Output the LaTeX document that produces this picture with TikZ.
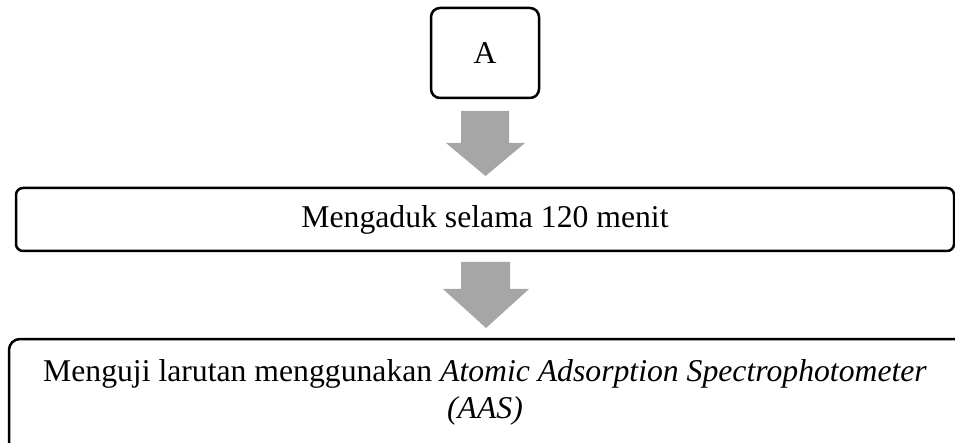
\documentclass[tikz,border=0pt]{standalone}
\usepackage{fontspec}
\setmainfont{Liberation Serif}
\definecolor{arrowgray}{RGB}{166,166,166}
\tikzset{
  box/.style={draw=black, line width=2.5pt, rounded corners=9pt},
  blockarrow/.style={fill=arrowgray, draw=none},
  lbl/.style={font=\fontsize{31.7}{36.5}\selectfont, inner sep=0pt, align=center}
}
\begin{document}
\begin{tikzpicture}[x=1pt,y=-1pt]
\useasboundingbox (0,0) rectangle (955,443);
\clip (0,0) rectangle (955,443);
% box A
\draw[box] (431,8) rectangle (539,98);
\node[lbl] (a) at (485,53) {A};
% arrow 1
\fill[blockarrow] (461,111) -- (509,111) -- (509,143) -- (525,143) -- (485.5,176) -- (446,143) -- (461,143) -- cycle;
% box 2
\draw[box, rounded corners=7pt] (16,188) rectangle (954,251);
\node[lbl] (b) at (485,219.5) {Mengaduk selama 120 menit};
% arrow 2
\fill[blockarrow] (461,262) -- (510,262) -- (510,289) -- (529,289) -- (486,328) -- (443,289) -- (461,289) -- cycle;
% box 3
\draw[box, rounded corners=11pt] (9,339) rectangle (975,470);
\node[lbl] (c) at (485,392.5) {Menguji larutan menggunakan \textit{Atomic Adsorption Spectrophotometer}\\\textit{(AAS)}};
\end{tikzpicture}
\end{document}
